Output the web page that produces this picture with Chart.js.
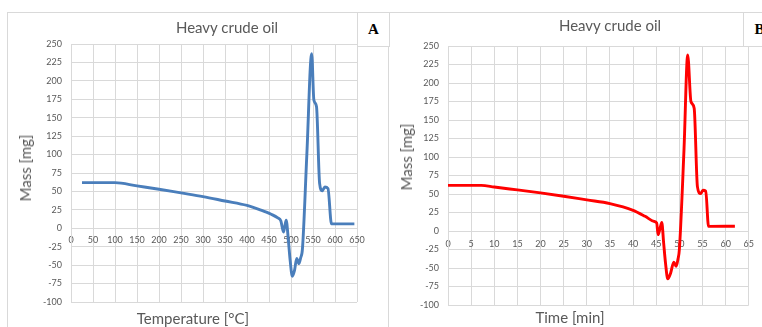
<!DOCTYPE html>
<html>
<head>
<meta charset="utf-8">
<script src="https://cdn.jsdelivr.net/npm/chart.js@4/dist/chart.umd.min.js"></script>
<style>
  html, body { margin: 0; padding: 0; background: #fff; width: 762px; height: 327px; overflow: hidden; position: relative; font-family: Lato, "Open Sans", sans-serif; }
  .panel { position: absolute; border: 1px solid #d9d9d9; border-bottom: none; }
  .tag { position: absolute; background: #fff; border: 1px solid #d9d9d9; font-family: "Liberation Serif", "DejaVu Serif", serif; font-weight: bold; font-size: 15px; color: #000; text-align: center; line-height: 32px; }
  .ttl { position: absolute; color: #595959; font-size: 15px; white-space: nowrap; transform: translate(-50%, -50%); }
  .ytl { position: absolute; color: #595959; font-size: 15px; white-space: nowrap; transform: translate(-50%, -50%) rotate(-90deg); }
  canvas { position: absolute; top: 0; }
</style>
</head>
<body>
<div class="panel" style="left:7px; top:12px; width:380px; height:320px;"></div>
<div class="panel" style="left:388px; top:12px; width:380px; height:320px;"></div>

<canvas id="cA" width="388" height="327" style="left:0;"></canvas>
<canvas id="cB" width="374" height="327" style="left:388px;"></canvas>

<div class="tag" style="left:357px; top:12px; width:31px; height:33px;">A</div>
<div class="tag" style="left:743px; top:12px; width:31px; height:33px;">B</div>

<div class="ttl" style="left:227px; top:27px;">Heavy crude oil</div>
<div class="ttl" style="left:610px; top:25px;">Heavy crude oil</div>
<div class="ttl" style="left:193px; top:318px;">Temperature [°C]</div>
<div class="ttl" style="left:570px; top:317px;">Time [min]</div>
<div class="ytl" style="left:25px; top:168px;">Mass [mg]</div>
<div class="ytl" style="left:406px; top:157px;">Mass [mg]</div>

<script>
// Panel A: mass vs temperature
const tempC = [25, 100, 150, 200, 250, 300, 350, 400, 430, 455, 470, 477, 483, 486, 489, 494, 498, 503, 508, 513, 518, 522, 526, 536, 547, 552, 558, 565, 571, 577, 584, 592, 644];
const massA = [62, 62, 57.5, 53, 48, 43, 37, 31, 25, 19, 14, 10, -5, 3, 11, -16, -43, -65, -57, -41, -48, -40, -28, 100, 237, 174, 165, 61, 51, 56, 54, 6, 6];

// Panel B: mass vs time
const timeMin = [0, 7.2, 10, 15, 20, 25, 30, 35, 40, 42.6, 44.5, 45.1, 45.4, 45.8, 46.2, 46.6, 47.0, 47.5, 48.1, 48.8, 49.3, 49.7, 50.0, 51.0, 51.8, 52.5, 53.2, 53.9, 54.6, 55.1, 55.7, 56.3, 62.0];
const massB = [61.7, 61.7, 59.5, 55.5, 51.5, 47, 42, 37, 28, 19.8, 13, 10.9, -4.9, 3, 11.7, -16, -43, -64.7, -57, -42, -47.6, -38, -25, 110, 238, 175, 166, 60, 50.5, 55, 54, 6.3, 6.5];

// Axis ranges / tick steps
const yMin = -100, yMax = 250, yStep = 25;
const tempMin = 0, tempMax = 650, tempStep = 50;
const timeMinAx = 0, timeMaxAx = 65, timeStep = 5;

const gridCol = '#d9d9d9';
const tickCol = '#595959';
const tickFont = { family: 'Lato, "Open Sans", sans-serif', size: 9 };

function makeChart(id, xs, ys, color, xmin, xmax, xstep, area) {
  const pts = xs.map((x, i) => ({ x: x, y: ys[i] }));
  return new Chart(document.getElementById(id), {
    type: 'line',
    data: { datasets: [{ data: pts, borderColor: color, borderWidth: 2.9, pointRadius: 0, fill: false, cubicInterpolationMode: 'monotone' }] },
    options: {
      responsive: false,
      animation: false,
      events: [],
      layout: { padding: { left: 0, top: area.top, right: area.right, bottom: area.bottom } },
      plugins: { legend: { display: false }, tooltip: { enabled: false }, title: { display: false } },
      scales: {
        x: {
          type: 'linear',
          position: { y: 0 },
          min: xmin, max: xmax,
          ticks: { stepSize: xstep, autoSkip: false, maxRotation: 0, color: tickCol, font: tickFont, padding: area.xpad },
          grid: { color: gridCol, drawTicks: false },
          border: { color: gridCol }
        },
        y: {
          type: 'linear',
          position: 'left',
          min: yMin, max: yMax,
          ticks: { stepSize: yStep, color: tickCol, font: tickFont, padding: 9 },
          grid: { color: gridCol, drawTicks: false },
          border: { color: gridCol },
          afterFit: (s) => { s.width = area.left; }
        }
      }
    }
  });
}

makeChart('cA', tempC, massA, '#4a7ebb', tempMin, tempMax, tempStep, { left: 71, top: 44, right: 31, bottom: 25, xpad: 6 });
makeChart('cB', timeMin, massB, '#ff0000', timeMinAx, timeMaxAx, timeStep, { left: 60, top: 46, right: 6, bottom: 22, xpad: 8 });
</script>
</body>
</html>
